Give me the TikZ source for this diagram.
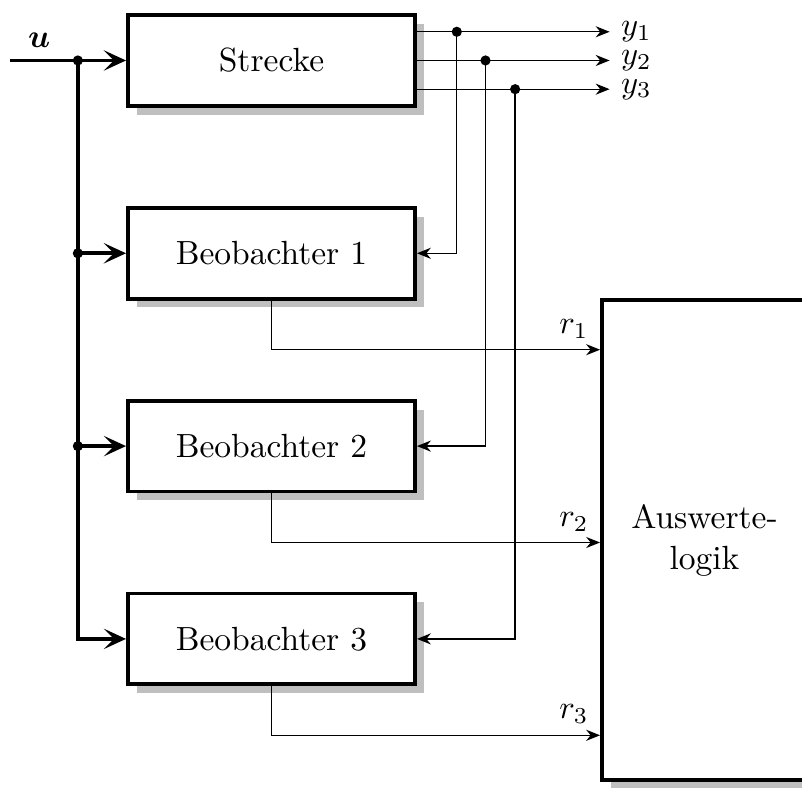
\documentclass[tikz,border=0pt]{standalone}
\usepackage{amsmath}
\usepackage{bm}
\usepackage{tikz}
\usetikzlibrary{arrows.meta, positioning, shadows, calc}
\tikzset{
	blk/.style ={rectangle, draw=black, line width=1.2pt, fill=white, minimum width=3.1cm, minimum height=0.98cm, align=center, drop shadow={shadow xshift=0.095cm, shadow yshift=-0.095cm, fill=black!25, opacity=1}},
	bus/.style ={-{Stealth[length=2.4mm, width=2.2mm, inset=1.1mm]}, line width=1.2pt},
	sig/.style ={-{Stealth[length=1.5mm, width=1.2mm]}, thin},
	dot/.style ={circle, fill=black, inner sep=0pt, minimum size=0.11cm},
}
\begin{document}
\begin{tikzpicture}[node distance=1.06cm, font=\fontsize{10.3}{12.6}\selectfont]
	\useasboundingbox (0,0) rectangle (8.661,-8.499);
	\node[blk] (s) at (2.932,-0.653) {Strecke};
	\node[blk, below=of s] (b1) {Beobachter 1};
	\node[blk, below=of b1] (b2) {Beobachter 2};
	\node[blk, below=of b2] (b3) {Beobachter 3};
	\node[blk, minimum width=2.214cm, minimum height=5.184cm] (a) at (7.608,-5.832) {Auswerte-\\logik};
	% Eingang und Verteilung
	\coordinate (uin) at ([xshift=-1.25cm]s.west);
	\coordinate (j0) at ([xshift=-0.52cm]s.west);
	\coordinate (j1) at (j0 |- b1);
	\coordinate (j2) at (j0 |- b2);
	\draw[bus] (uin) -- node[above, pos=0.25] (lu) {$\bm{u}$} (s);
	\draw[bus] (j0) |- (b3);
	\draw[bus] (j1) -- (b1);
	\draw[bus] (j2) -- (b2);
	% Ausgaenge der Strecke
	\coordinate (o1) at ([yshift=0.31cm]s.east);
	\coordinate (o2) at (s.east);
	\coordinate (o3) at ([yshift=-0.31cm]s.east);
	\coordinate (t1) at ([xshift=0.43cm]o1);
	\coordinate (t2) at ([xshift=0.74cm]o2);
	\coordinate (t3) at ([xshift=1.06cm]o3);
	\foreach \i in {1,2,3} {
		\coordinate (y\i) at ([xshift=2.08cm]o\i);
		\draw[sig] (o\i) -- (y\i) node[right] (ly\i) {$y_\i$};
		\draw[sig] (t\i) |- (b\i);
		\coordinate (r\i) at ([yshift=-0.53cm]b\i.south);
		\draw[sig] (b\i.south) |- (a.west |- r\i) node[above left] (lr\i) {$r_\i$};
	}
	\foreach \p in {j0,j1,j2,t1,t2,t3}
		\node[dot] (d-\p) at (\p) {};
\end{tikzpicture}
\end{document}
